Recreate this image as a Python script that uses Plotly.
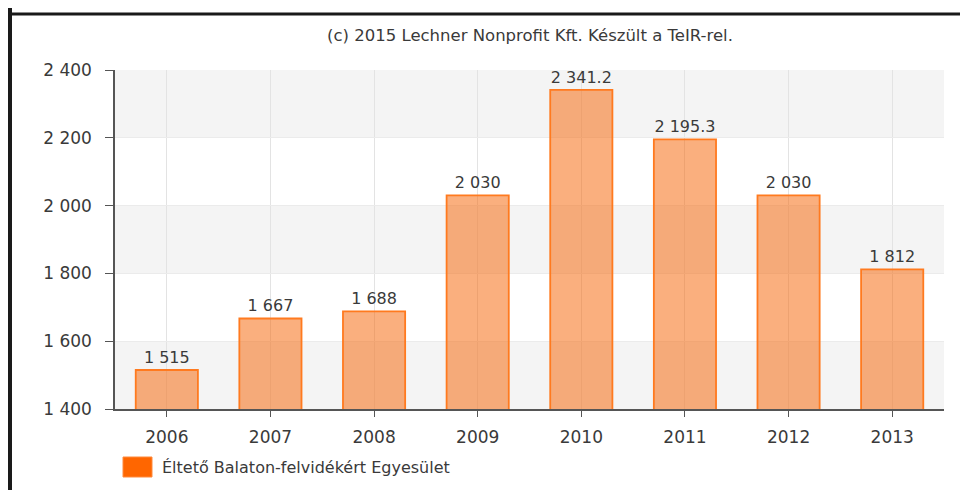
import plotly.graph_objects as go

years = ["2006", "2007", "2008", "2009", "2010", "2011", "2012", "2013"]
values = [1515, 1667, 1688, 2030, 2341.2, 2195.3, 2030, 1812]
series_name = "Éltető Balaton-felvidékért Egyesület"
title_text = "(c) 2015 Lechner Nonprofit Kft. Készült a TeIR-rel."
y_ticks = [1400, 1600, 1800, 2000, 2200, 2400]

FONT = "DejaVu Sans"
TXT = "#3a3a3a"

# plot area in figure pixels
L, R_EDGE, T, B_EDGE = 107, 936, 62, 401
W, H = 968, 490
PW, PH = R_EDGE - L, B_EDGE - T


def px_x(x):
    return (x - L) / PW


def px_y(y):
    return (B_EDGE - y) / PH


fig = go.Figure()
fig.add_trace(go.Bar(
    x=years, y=values, name=series_name,
    marker=dict(color="rgba(245,110,20,0.55)",
                line=dict(color="#ff7a1f", width=1.8)),
    width=0.6,
    texttemplate="%{y:,}", textposition="outside",
    textfont=dict(family=FONT, size=16, color=TXT),
    cliponaxis=False,
    showlegend=False,
))

shapes = []
# alternating background bands
for i in range(len(y_ticks) - 1):
    if i % 2 == 0:
        shapes.append(dict(type="rect", xref="paper", yref="y", x0=0, x1=1,
                           y0=y_ticks[i], y1=y_ticks[i + 1],
                           fillcolor="#f4f4f4", line=dict(width=0), layer="below"))
# black frame (left + top)
shapes.append(dict(type="line", xref="paper", yref="paper",
                   x0=px_x(2), x1=px_x(2), y0=px_y(0), y1=px_y(H + 10),
                   line=dict(color="#1a1a1a", width=4)))
shapes.append(dict(type="line", xref="paper", yref="paper",
                   x0=px_x(0), x1=px_x(W + 10), y0=px_y(6), y1=px_y(6),
                   line=dict(color="#1a1a1a", width=3)))
# legend swatch
shapes.append(dict(type="rect", xref="paper", yref="paper",
                   x0=px_x(115), x1=px_x(144), y0=px_y(449), y1=px_y(469),
                   fillcolor="#ff6600", line=dict(color="#ff8a3d", width=1)))

annotations = [dict(text=series_name, xref="paper", yref="paper",
                    x=px_x(152), y=px_y(459), xanchor="left", yanchor="middle",
                    showarrow=False, font=dict(family=FONT, size=16, color=TXT))]

fig.update_layout(
    width=W, height=H,
    margin=dict(l=L, r=W - R_EDGE, t=T, b=H - B_EDGE, autoexpand=False),
    paper_bgcolor="white", plot_bgcolor="white",
    separators=". ",
    font=dict(family=FONT, size=13, color=TXT),
    title=dict(text=title_text, x=522 / W, xanchor="center",
               y=1 - 27 / H, yanchor="middle",
               font=dict(family=FONT, size=16.5, color=TXT)),
    bargap=0.4,
    shapes=shapes,
    annotations=annotations,
    showlegend=False,
    xaxis=dict(showgrid=True, gridcolor="#e3e3e3", gridwidth=1,
               showline=True, linecolor="#555555", linewidth=1.5,
               ticks="outside", ticklen=6, tickcolor="#555555",
               ticklabelstandoff=6,
               tickfont=dict(family=FONT, size=17, color=TXT)),
    yaxis=dict(range=[y_ticks[0], y_ticks[-1]], tickvals=y_ticks,
               tickformat=",d", showgrid=True, gridcolor="#ebebeb",
               showline=True, linecolor="#555555", linewidth=1.5,
               ticks="outside", ticklen=8, tickcolor="#555555",
               ticklabelstandoff=10,
               zeroline=False,
               tickfont=dict(family=FONT, size=17, color=TXT)),
)

fig.write_html("out.html")
